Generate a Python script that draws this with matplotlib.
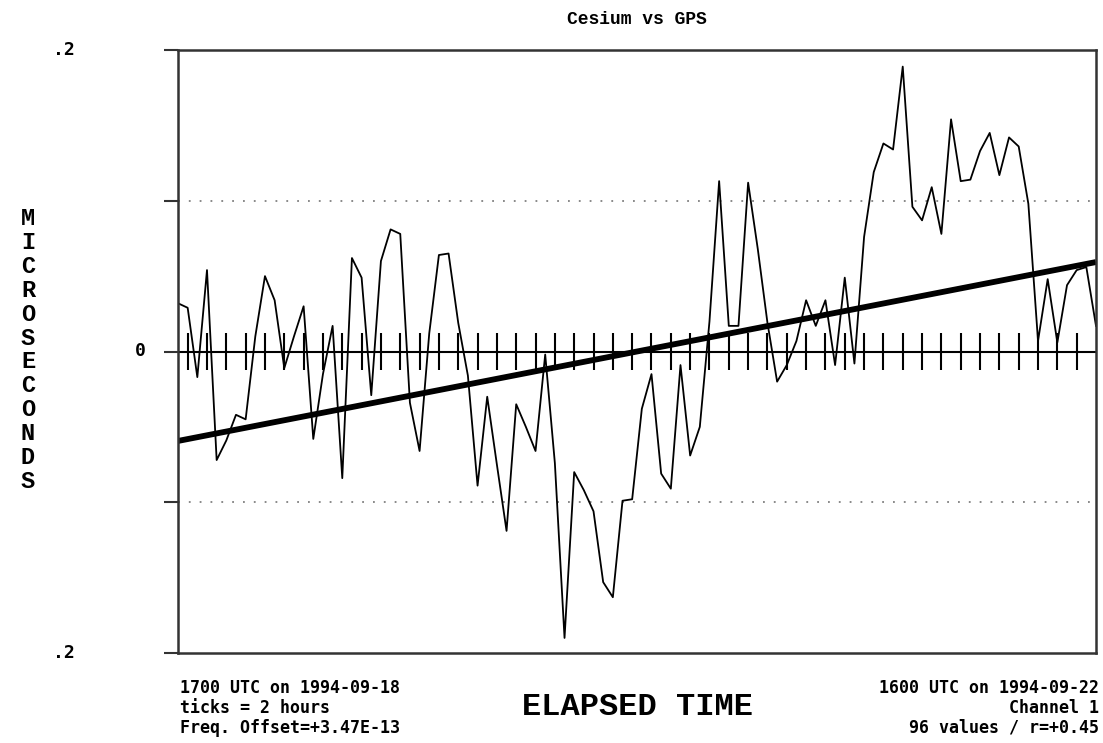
import matplotlib.pyplot as plt
import numpy as np

# hourly Cesium - GPS offsets, microseconds
hours = np.arange(96)
offsets = [
    0.032, 0.029, -0.017, 0.054, -0.072, -0.059, -0.042, -0.045, 0.010, 0.050,
    0.034, -0.011, 0.010, 0.030, -0.058, -0.015, 0.017, -0.084, 0.062, 0.049,
    -0.029, 0.060, 0.081, 0.078, -0.034, -0.066, 0.012, 0.064, 0.065, 0.019,
    -0.016, -0.089, -0.030, -0.075, -0.119, -0.035, -0.050, -0.066, -0.002, -0.074,
    -0.190, -0.080, -0.092, -0.106, -0.153, -0.163, -0.099, -0.098, -0.038, -0.015,
    -0.081, -0.091, -0.009, -0.069, -0.050, 0.020, 0.113, 0.017, 0.017, 0.112,
    0.068, 0.019, -0.020, -0.009, 0.007, 0.034, 0.017, 0.034, -0.009, 0.049,
    -0.008, 0.076, 0.119, 0.138, 0.134, 0.189, 0.096, 0.087, 0.109, 0.078,
    0.154, 0.113, 0.114, 0.133, 0.145, 0.117, 0.142, 0.136, 0.098, 0.007,
    0.048, 0.006, 0.044, 0.054, 0.056, 0.017,
]
freq_offset = 3.47e-13      # s/s
fit_center = 0.0            # fit value at mid-span
tick_hours = np.arange(1, 95, 2)

left_lines = ['1700 UTC on 1994-09-18', 'ticks = 2 hours', 'Freq. Offset=+3.47E-13']
right_lines = ['1600 UTC on 1994-09-22', 'Channel 1', '96 values / r=+0.45']

W, H = 1103, 743
mono = 'DejaVu Sans Mono'
serif_mono = ['Liberation Mono', 'DejaVu Sans Mono']

def fx(px):
    return px / W

def fy(py):
    return 1 - py / H

fig = plt.figure(figsize=(W / 100, H / 100), dpi=100)
ax = fig.add_axes([fx(178), fy(653), (1096 - 178) / W, (653 - 50) / H])
ax.set_xlim(hours[0], hours[-1])
ax.set_ylim(-0.2, 0.2)

for s in ax.spines.values():
    s.set_linewidth(1.8)
    s.set_color('#333333')
ax.set_xticks([])
ax.set_yticks([-0.2, -0.1, 0, 0.1, 0.2])
ax.set_yticklabels([])
ax.tick_params(axis='y', length=10, width=1.5, color='#333333', direction='out')

ax.axhline(0.1, color='gray', lw=1.3, ls=(0, (1, 5)))
ax.axhline(-0.1, color='gray', lw=1.3, ls=(0, (1, 5)))
ax.axhline(0, color='black', lw=1.5)
ax.vlines(tick_hours, -0.012, 0.012, color='black', lw=1.5)

ax.plot(hours, offsets, color='black', lw=1.3)

slope = freq_offset * 3600 * 1e6   # microseconds per hour
fit = fit_center + slope * (hours - hours.mean())
ax.plot(hours, fit, color='black', lw=4.2, solid_capstyle='butt')

fig.text(fx(637), fy(20), 'Cesium vs GPS', ha='center', va='center',
         family=serif_mono, weight='bold', fontsize=13)

fig.text(fx(75), fy(50), '.2', ha='right', va='center', family=mono, weight='bold', fontsize=13)
fig.text(fx(146), fy(351), '0', ha='right', va='center', family=mono, weight='bold', fontsize=13)
fig.text(fx(75), fy(653), '.2', ha='right', va='center', family=mono, weight='bold', fontsize=13)

fig.text(fx(28), fy(350), '\n'.join('MICROSECONDS'), ha='center', va='center',
         family=serif_mono, weight='bold', fontsize=17, linespacing=1.05)

for i, (l, r) in enumerate(zip(left_lines, right_lines)):
    y = fy(688 + 20 * i)
    fig.text(fx(180), y, l, ha='left', va='center', family=mono, weight='bold', fontsize=12)
    fig.text(fx(1099), y, r, ha='right', va='center', family=mono, weight='bold', fontsize=12)

fig.text(fx(637), fy(707), 'ELAPSED TIME', ha='center', va='center',
         family=serif_mono, weight='bold', fontsize=23)

fig.savefig('out.png', dpi=100)
